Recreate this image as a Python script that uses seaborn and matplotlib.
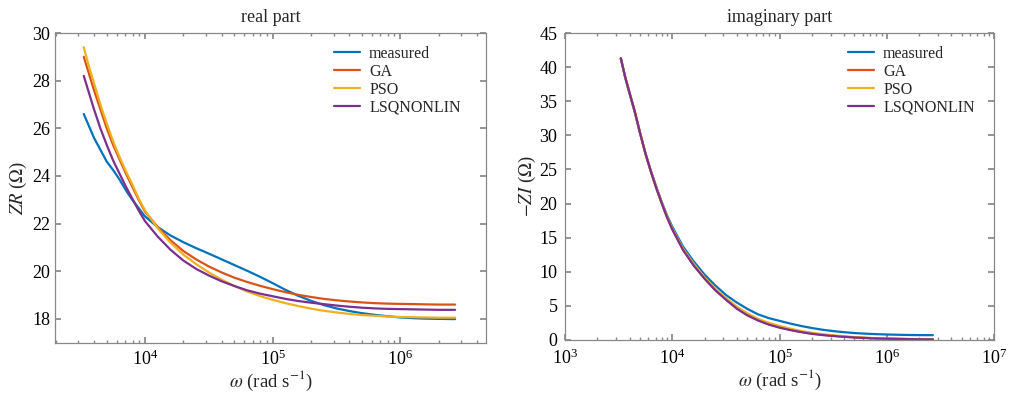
import numpy as np
import pandas as pd
import matplotlib
matplotlib.use("Agg")
import matplotlib.pyplot as plt
import seaborn as sns

log_w = [3.52, 3.56, 3.6, 3.65, 3.7, 3.75, 3.8, 3.85, 3.9, 3.95, 4.0, 4.1, 4.2, 4.3, 4.4, 4.5,
         4.6, 4.7, 4.8, 4.9, 5.0, 5.1, 5.2, 5.3, 5.4, 5.5, 5.6, 5.7, 5.8, 5.9, 6.0, 6.1, 6.2, 6.3, 6.43]

# real part ZR (ohm)
zr_measured = [26.6, 26.1, 25.6, 25.1, 24.6, 24.25, 23.85, 23.4, 23.0, 22.65, 22.3, 21.85, 21.5, 21.22, 20.97, 20.74,
               20.5, 20.26, 20.02, 19.77, 19.5, 19.22, 18.97, 18.76, 18.58, 18.44, 18.33, 18.24, 18.17, 18.11, 18.06, 18.03, 18.01, 18.0, 17.99]
zr_ga = [29.0, 28.3, 27.6, 26.8, 26.0, 25.3, 24.7, 24.1, 23.55, 23.0, 22.5, 21.85, 21.3, 20.85, 20.5, 20.2,
         19.95, 19.73, 19.55, 19.39, 19.25, 19.12, 19.01, 18.92, 18.84, 18.78, 18.73, 18.69, 18.66, 18.64, 18.63, 18.62, 18.61, 18.6, 18.6]
zr_pso = [29.4, 28.6, 27.9, 27.0, 26.2, 25.45, 24.8, 24.2, 23.65, 23.05, 22.55, 21.8, 21.2, 20.7, 20.3, 19.95,
          19.65, 19.38, 19.15, 18.96, 18.8, 18.66, 18.54, 18.43, 18.34, 18.27, 18.21, 18.16, 18.13, 18.1, 18.08, 18.07, 18.06, 18.05, 18.05]
zr_lsq = [28.2, 27.5, 26.8, 26.0, 25.3, 24.65, 24.1, 23.55, 23.05, 22.55, 22.1, 21.45, 20.9, 20.45, 20.1, 19.82,
          19.58, 19.38, 19.2, 19.06, 18.95, 18.84, 18.75, 18.68, 18.62, 18.56, 18.51, 18.47, 18.44, 18.42, 18.41, 18.4, 18.39, 18.38, 18.38]

# imaginary part -ZI (ohm)
zi_measured = [41.3, 38.5, 36.2, 33.4, 30.3, 27.4, 24.8, 22.5, 20.3, 18.3, 16.6, 13.7, 11.5, 9.6, 8.0, 6.6,
               5.5, 4.55, 3.75, 3.2, 2.8, 2.4, 2.05, 1.75, 1.5, 1.3, 1.14, 1.01, 0.92, 0.85, 0.8, 0.76, 0.73, 0.71, 0.7]
zi_ga = [41.3, 38.6, 36.3, 33.5, 30.3, 27.3, 24.7, 22.3, 20.1, 18.05, 16.25, 13.25, 10.95, 9.05, 7.35, 5.95,
         4.65, 3.65, 2.9, 2.3, 1.85, 1.5, 1.19, 0.93, 0.75, 0.6, 0.48, 0.38, 0.3, 0.24, 0.19, 0.16, 0.13, 0.11, 0.09]
zi_pso = [41.3, 38.6, 36.3, 33.5, 30.3, 27.3, 24.7, 22.4, 20.2, 18.15, 16.35, 13.4, 11.15, 9.2, 7.5, 6.15,
          4.9, 3.9, 3.1, 2.5, 2.05, 1.65, 1.32, 1.05, 0.84, 0.67, 0.53, 0.42, 0.33, 0.26, 0.21, 0.17, 0.14, 0.12, 0.1]
zi_lsq = [41.3, 38.6, 36.3, 33.5, 30.3, 27.3, 24.7, 22.3, 20.1, 18.0, 16.2, 13.2, 10.9, 9.0, 7.3, 5.9,
          4.6, 3.6, 2.85, 2.25, 1.8, 1.45, 1.15, 0.9, 0.72, 0.58, 0.46, 0.36, 0.28, 0.22, 0.18, 0.15, 0.12, 0.1, 0.08]

series = ["measured", "GA", "PSO", "LSQNONLIN"]
colors = ["#0072BD", "#D95319", "#EDB120", "#7E2F8E"]

omega = 10 ** np.array(log_w)


def long_frame(values):
    rows = []
    for name, ys in zip(series, values):
        for w, y in zip(omega, ys):
            rows.append({"omega": w, "value": y, "series": name})
    return pd.DataFrame(rows)


real_df = long_frame([zr_measured, zr_ga, zr_pso, zr_lsq])
imag_df = long_frame([zi_measured, zi_ga, zi_pso, zi_lsq])

sns.set_theme(style="ticks")
plt.rcParams["font.family"] = ["Liberation Serif", "DejaVu Serif"]
plt.rcParams["mathtext.fontset"] = "stix"
plt.rcParams["xtick.direction"] = "in"
plt.rcParams["ytick.direction"] = "in"
plt.rcParams["xtick.top"] = True
plt.rcParams["ytick.right"] = True

fig = plt.figure(figsize=(10.11, 3.93), dpi=100)
ax1 = fig.add_axes([0.0544, 0.128, 0.4263, 0.788])
ax2 = fig.add_axes([0.5589, 0.135, 0.4243, 0.781])

palette = dict(zip(series, colors))

for ax, df, lx in [(ax1, real_df, 0.614), (ax2, imag_df, 0.626)]:
    sns.lineplot(data=df, x="omega", y="value", hue="series", hue_order=series,
                 palette=palette, linewidth=1.6, ax=ax, sort=True)
    ax.set_xscale("log")
    ax.legend(frameon=False, loc="upper left", fontsize=11.5, handlelength=1.6,
              handletextpad=0.6, labelspacing=0.12, bbox_to_anchor=(lx, 1.005))
    for s in ax.spines.values():
        s.set_color("#888888")
        s.set_linewidth(0.9)
    ax.tick_params(which="both", colors="#888888", labelcolor="black", labelsize=13)
    ax.tick_params(which="major", length=4)
    ax.tick_params(which="minor", length=2)
    ax.tick_params(axis="y", pad=3.5)
    ax.tick_params(axis="x", pad=5)
    ax.set_xlabel(r"$\omega$ (rad s$^{-1}$)", fontsize=13.5, labelpad=0)

ax1.set_xlim(1970, 4.7e6)
ax1.set_ylim(17, 30)
ax1.set_yticks([18, 20, 22, 24, 26, 28, 30])
ax1.set_ylabel(r"$ZR$ ($\Omega$)", fontsize=13.5, labelpad=2)
ax1.set_title("real part", fontsize=13, pad=8)

ax2.set_xlim(1e3, 1e7)
ax2.set_ylim(0, 45)
ax2.set_yticks(range(0, 50, 5))
ax2.tick_params(axis="y", pad=5.5)
ax2.tick_params(axis="x", pad=6)
ax2.set_ylabel(r"$-ZI$ ($\Omega$)", fontsize=13.5, labelpad=1)
ax2.set_title("imaginary part", fontsize=13, pad=8)

fig.savefig("out.png", dpi=100)
